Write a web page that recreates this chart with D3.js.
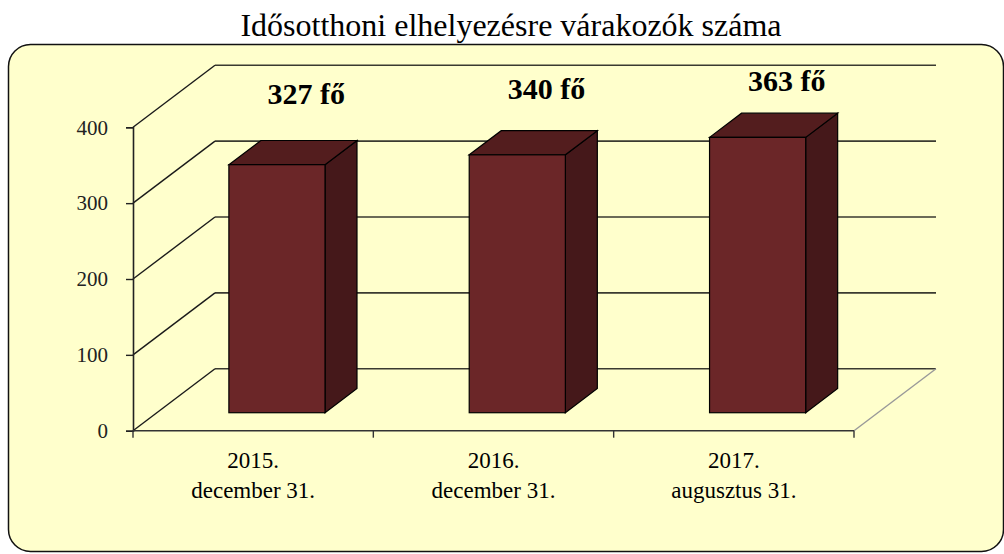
<!DOCTYPE html>
<meta charset="utf-8">
<title>Idősotthoni elhelyezésre várakozók száma</title>
<script src="https://d3js.org/d3.v7.min.js"></script>
<style>
  body { margin: 0; background: #fff; overflow: hidden; }
</style>
<div id="my_dataviz"></div>
<script>

// data
var categories = ["2015.|december 31.", "2016.|december 31.", "2017.|augusztus 31."];
var values = [327, 340, 363];
var barLabels = ["327 fő", "340 fő", "363 fő"];
var yTicks = [0, 100, 200, 300, 400];
var title = "Idősotthoni elhelyezésre várakozók száma";

var W = 1004, H = 554;
var serif = "'Liberation Serif', 'Times New Roman', 'DejaVu Serif', serif";

var svg = d3.select("#my_dataviz")
  .append("svg")
    .attr("width", W)
    .attr("height", H)
    .attr("font-family", serif);

// title
svg.append("text")
  .attr("x", 511)
  .attr("y", 36)
  .attr("text-anchor", "middle")
  .attr("font-family", serif)
  .attr("font-size", "32px")
  .text(title);

// chart area box
svg.append("rect")
  .attr("x", 8.5)
  .attr("y", 44.5)
  .attr("width", 995)
  .attr("height", 507)
  .attr("rx", 22)
  .attr("fill", "#ffffcc")
  .attr("stroke", "#111")
  .attr("stroke-width", 1.5);

// 3d geometry
var depthX = 82, depthY = -62;   // offset of back wall
var f0 = 0.29, f1 = 0.68;        // bar depth, as part of the floor depth

var x = d3.scaleBand()
  .domain(categories)
  .range([133, 854])
  .paddingInner(0.6)
  .paddingOuter(0.3);

var y = d3.scaleLinear()
  .domain([0, 400])
  .range([430.7, 127.3]);

var grid = svg.append("g");

// back wall gridlines + diagonals on the side wall
yTicks.forEach(function(t) {
  grid.append("line")
    .attr("x1", 133 + depthX).attr("x2", 854 + depthX)
    .attr("y1", y(t) + depthY).attr("y2", y(t) + depthY)
    .attr("stroke", "#3a3a30").attr("stroke-width", 1.6);
  grid.append("line")
    .attr("x1", 133).attr("x2", 133 + depthX)
    .attr("y1", y(t)).attr("y2", y(t) + depthY)
    .attr("stroke", "#1a1a1a").attr("stroke-width", 1.4);
});

// floor right edge (grey)
grid.append("line")
  .attr("x1", 854).attr("y1", y(0))
  .attr("x2", 854 + depthX).attr("y2", y(0) + depthY)
  .attr("stroke", "#999").attr("stroke-width", 1.4);

// front y axis
var yAxis = d3.axisLeft(y).tickValues(yTicks).tickSize(7).tickPadding(18);
var gy = svg.append("g")
  .attr("transform", "translate(133,0)")
  .call(yAxis)
  .attr("font-family", serif);
gy.select(".domain").attr("stroke", "#222").attr("stroke-width", 1.6);
gy.selectAll(".tick line").attr("stroke", "#222").attr("stroke-width", 1.4);
gy.selectAll(".tick text")
  .attr("font-family", serif)
  .attr("font-size", "21px")
  .attr("fill", "#222");

// front x axis
var xAxisLine = svg.append("g");
xAxisLine.append("line")
  .attr("x1", 133).attr("x2", 854)
  .attr("y1", y(0)).attr("y2", y(0))
  .attr("stroke", "#333").attr("stroke-width", 1.6);
var xTickPos = categories.map(function(c) { return x(c) - x.step() * x.paddingInner() / 2; });
xTickPos.push(854);
xAxisLine.selectAll(".xt")
  .data(xTickPos)
  .enter().append("line")
    .attr("x1", function(d) { return d; })
    .attr("x2", function(d) { return d; })
    .attr("y1", y(0))
    .attr("y2", y(0) + 7)
    .attr("stroke", "#333").attr("stroke-width", 1.4);

// category labels
var cl = svg.selectAll(".cat")
  .data(categories)
  .enter().append("text")
    .attr("class", "cat")
    .attr("text-anchor", "middle")
    .attr("font-family", serif)
    .attr("font-size", "23px");
cl.each(function(d) {
  var parts = d.split("|");
  var cx = x(d) + x.bandwidth() / 2;
  d3.select(this).selectAll("tspan")
    .data(parts)
    .enter().append("tspan")
      .attr("x", cx)
      .attr("y", function(p, i) { return 468 + i * 30; })
      .text(function(p) { return p; });
});

// bars
var fx = f0 * depthX, fy = f0 * depthY;
var sx = (f1 - f0) * depthX, sy = (f1 - f0) * depthY;

var bars = svg.selectAll(".bar")
  .data(values)
  .enter().append("g")
    .attr("class", "bar");

bars.each(function(v, i) {
  var g = d3.select(this);
  var x0 = x(categories[i]) + fx, x1 = x0 + x.bandwidth();
  var yb = y(0) + fy, yt = y(v) + fy;
  // side
  g.append("path")
    .attr("d", "M" + x1 + "," + yb + "L" + (x1 + sx) + "," + (yb + sy) +
               "L" + (x1 + sx) + "," + (yt + sy) + "L" + x1 + "," + yt + "Z")
    .attr("fill", "#45181a").attr("stroke", "#000").attr("stroke-width", 1.2);
  // top
  g.append("path")
    .attr("d", "M" + x0 + "," + yt + "L" + (x0 + sx) + "," + (yt + sy) +
               "L" + (x1 + sx) + "," + (yt + sy) + "L" + x1 + "," + yt + "Z")
    .attr("fill", "#531d1e").attr("stroke", "#000").attr("stroke-width", 1.2);
  // front
  g.append("rect")
    .attr("x", x0).attr("y", yt)
    .attr("width", x1 - x0).attr("height", yb - yt)
    .attr("fill", "#6b2628").attr("stroke", "#000").attr("stroke-width", 1.2);
});

// value labels, placed in the band above the bars
svg.selectAll(".vlab")
  .data(values)
  .enter().append("text")
    .attr("class", "vlab")
    .attr("x", function(v, i) { return x(categories[i]) + x.bandwidth() / 2 + 53; })
    .attr("y", function(v) { return 0.48 * (y(v) + fy) + 24.8; })
    .attr("text-anchor", "middle")
    .attr("font-family", serif)
    .attr("font-size", "30px")
    .attr("font-weight", "bold")
    .text(function(v, i) { return barLabels[i]; });

</script>
